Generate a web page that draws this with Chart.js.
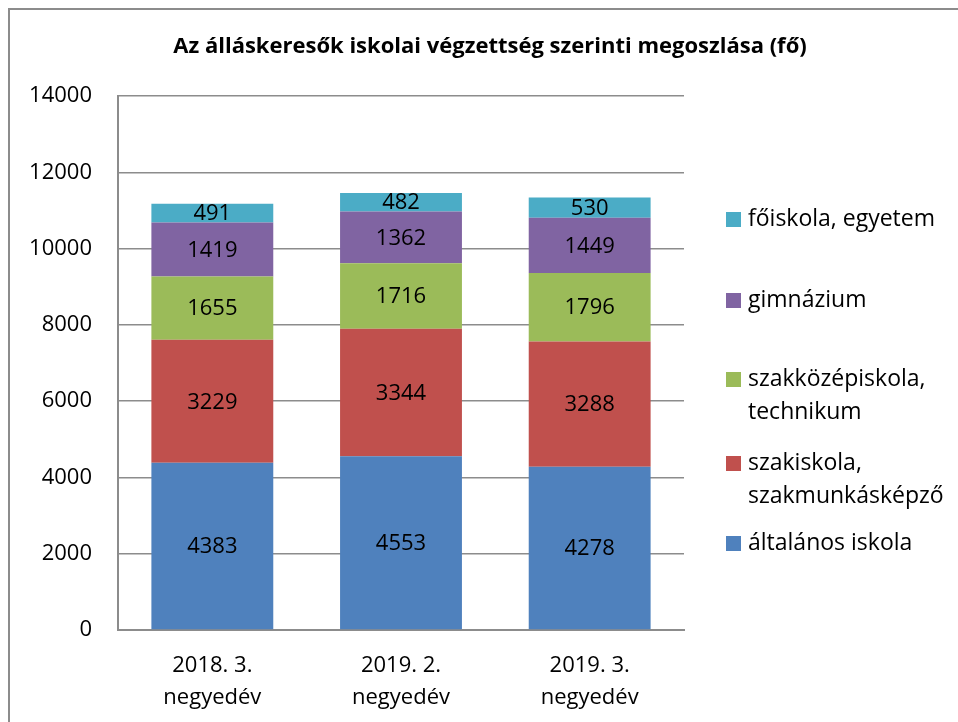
<!DOCTYPE html>
<html>
<head>
<meta charset="utf-8">
<script src="https://cdn.jsdelivr.net/npm/chart.js@4.4.0/dist/chart.umd.min.js"></script>
<style>
  html, body { margin: 0; padding: 0; background: #fff; overflow: hidden; }
  #keret { position: absolute; left: 8px; top: 8px; width: 1000px; height: 1000px; border: 2px solid #8c8c8c; }
  #doboz { position: absolute; left: 0; top: 0; width: 958px; height: 722px; }
</style>
</head>
<body>
<div id="keret"></div>
<div id="doboz"><canvas id="grafikon" width="958" height="722"></canvas></div>
<script>
const cimkek = [["2018. 3.", "negyedév"], ["2019. 2.", "negyedév"], ["2019. 3.", "negyedév"]];
const sorozatNevek = ["általános iskola", "szakiskola, szakmunkásképző", "szakközépiskola, technikum", "gimnázium", "főiskola, egyetem"];
const altalanos = [4383, 4553, 4278];
const szakiskola = [3229, 3344, 3288];
const szakkozep = [1655, 1716, 1796];
const gimnazium = [1419, 1362, 1449];
const foiskola = [491, 482, 530];
const szinek = ["#4F81BD", "#C0504D", "#9BBB59", "#8064A2", "#4BACC6"];

const betu = "'Open Sans', 'Noto Sans', sans-serif";

// felirat a szegmensek közepére
const ertekFeliratok = {
  id: "ertekFeliratok",
  afterDatasetsDraw(chart) {
    const ctx = chart.ctx;
    ctx.save();
    ctx.font = "22px " + betu;
    ctx.fillStyle = "#000";
    ctx.textAlign = "center";
    ctx.textBaseline = "middle";
    chart.data.datasets.forEach((ds, i) => {
      chart.getDatasetMeta(i).data.forEach((elem, j) => {
        const p = elem.getProps(["x", "y", "base"], true);
        ctx.fillText(String(ds.data[j]), p.x, (p.y + p.base) / 2 + 1);
      });
    });
    ctx.restore();
  }
};

// cím és jelmagyarázat
const cimEsJelek = {
  id: "cimEsJelek",
  afterDraw(chart) {
    const ctx = chart.ctx;
    ctx.save();
    ctx.fillStyle = "#000";
    ctx.textAlign = "center";
    ctx.textBaseline = "middle";
    ctx.font = "bold 22px " + betu;
    ctx.fillText("Az álláskeresők iskolai végzettség szerinti megoszlása (fő)", 490, 47);

    const sorok = [
      [["főiskola, egyetem"], 219],
      [["gimnázium"], 300],
      [["szakközépiskola,", "technikum"], 379],
      [["szakiskola,", "szakmunkásképző"], 463],
      [["általános iskola"], 543]
    ];
    ctx.font = "23px " + betu;
    ctx.textAlign = "left";
    sorok.forEach((s, k) => {
      const idx = 4 - k;
      ctx.fillStyle = szinek[idx];
      ctx.fillRect(726, s[1] - 7, 15, 15);
      ctx.fillStyle = "#000";
      s[0].forEach((t, n) => ctx.fillText(t, 748, s[1] + n * 33));
    });
    ctx.restore();
  }
};

const adatsorok = [altalanos, szakiskola, szakkozep, gimnazium, foiskola].map((d, i) => ({
  label: sorozatNevek[i],
  data: d,
  backgroundColor: szinek[i],
  borderWidth: 0,
  barPercentage: 0.646,
  categoryPercentage: 1
}));

new Chart(document.getElementById("grafikon"), {
  type: "bar",
  data: { labels: cimkek, datasets: adatsorok },
  options: {
    responsive: false,
    animation: false,
    layout: { padding: { top: 96, right: 274, left: 0, bottom: 0 } },
    plugins: { legend: { display: false }, title: { display: false }, tooltip: { enabled: false } },
    scales: {
      x: {
        stacked: true,
        grid: { display: false },
        border: { display: true, color: "#8c8c8c", width: 2 },
        ticks: { color: "#000", font: { size: 22, family: betu, lineHeight: 1.45 }, padding: 12, maxRotation: 0 },
        afterFit(s) { s.height = 92; }
      },
      y: {
        stacked: true,
        min: 0,
        max: 14000,
        ticks: { stepSize: 2000, color: "#000", font: { size: 22, family: betu }, padding: 26, callback: v => String(v) },
        grid: { color: "#8c8c8c", lineWidth: 1.5, drawTicks: false },
        border: { display: true, color: "#8c8c8c", width: 2 },
        afterFit(s) { s.width = 118; }
      }
    }
  },
  plugins: [ertekFeliratok, cimEsJelek]
});
</script>
</body>
</html>
